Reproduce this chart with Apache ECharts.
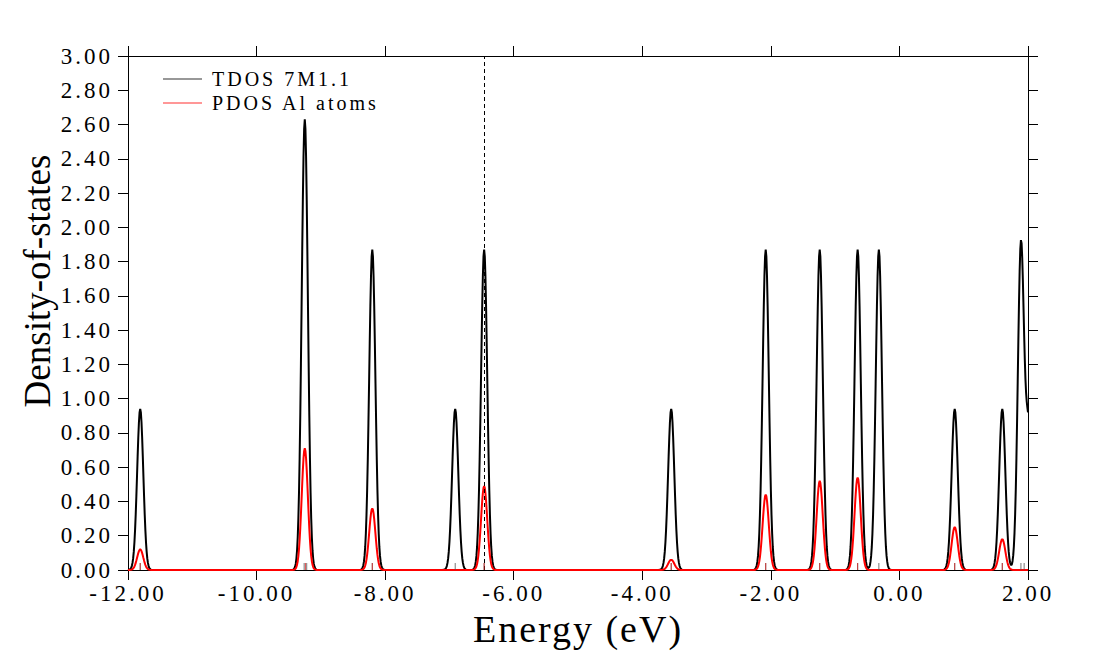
<!DOCTYPE html>
<html>
<head>
<meta charset="utf-8">
<script src="https://cdn.jsdelivr.net/npm/echarts@6/dist/echarts.min.js"></script>
<style>
  html, body { margin: 0; padding: 0; background: #fff; }
  #dos { width: 1103px; height: 663px; }
  /* xmgrace-like wide text */
  #dos svg text[style*="23px"] { letter-spacing: 3px; }
  #dos svg text[style*="20px"] { letter-spacing: 3px; }
  #dos svg text[style*="38px"] { letter-spacing: 2px; }
</style>
</head>
<body>
<div id="dos"></div>
<script>
var myChart = echarts.init(document.getElementById('dos'), null, { renderer: 'svg' });

// energy window (eV) and sampling step of the curves
var xMin = -12, xMax = 2, step = 0.01;

// eigenvalue positions and peak heights
var tdosLevels  = [-11.81, -9.25, -8.20, -6.91, -6.46, -3.55, -2.08, -1.24, -0.65, -0.32, 0.86, 1.60, 1.89, 2.01];
var tdosHeights = [  0.94,  2.63,  1.87,  0.94,  1.87,  0.94,  1.87,  1.87,  1.87,  1.87, 0.94, 0.94, 1.89, 0.80];

var alLevels  = [-11.81, -9.25, -8.20, -6.46, -3.55, -2.08, -1.24, -0.65, 0.86, 1.60];
var alHeights = [  0.12,  0.71,  0.36,  0.49,  0.06,  0.44,  0.52,  0.54, 0.25, 0.18];

// peak profile (fraction of peak height every 0.01 eV from the centre)
var peakShape = [1, 0.979, 0.917, 0.823, 0.707, 0.581, 0.458, 0.345, 0.249, 0.172, 0.114,
                 0.072, 0.044, 0.026, 0.014, 0.008, 0.004, 0.002, 0.001];

// short sticks on the energy axis
var levelSticks = [-11.81, -9.26, -9.22, -8.20, -6.91, -6.46, -3.55, -2.08, -1.24, -0.65, -0.32, 0.86, 1.60, 1.89, 1.94];
var alSticks    = [-11.81, -9.24, -8.20, -6.46, -3.55, -2.08, -1.24, -0.65, 0.86, 1.60];

var xTicks = { min: -12, max: 2, interval: 2 };
var yTicks = { min: 0, max: 3, interval: 0.2 };

var seriesNames = ['TDOS 7M1.1', 'PDOS Al atoms'];
var fermi = -6.46;

var broaden = function (levels, heights) {
    var n = Math.round((xMax - xMin) / step) + 1;
    var y = [];
    for (var i = 0; i < n; i++) y.push(0);
    for (var j = 0; j < levels.length; j++) {
        var c = Math.round((levels[j] - xMin) / step);
        for (var k = -(peakShape.length - 1); k < peakShape.length; k++) {
            var idx = c + k;
            if (idx >= 0 && idx < n) y[idx] += heights[j] * peakShape[Math.abs(k)];
        }
    }
    return y.map(function (v, i) {
        return [+(xMin + i * step).toFixed(2), +v.toFixed(4)];
    });
};

var sticks = function (list) {
    return list.map(function (e) { return [e, 0]; });
};

var font = 'Liberation Serif';

var option = {
    backgroundColor: '#fff',
    animation: false,
    grid: { left: 128, right: 75, top: 56, bottom: 93, outerBoundsMode: 'none' },
    legend: {
        data: [
            { name: seriesNames[0], icon: 'rect', itemStyle: { color: '#333' } },
            { name: seriesNames[1], icon: 'rect', itemStyle: { color: '#ff3030' } }
        ],
        orient: 'vertical',
        left: 158,
        top: 64,
        itemWidth: 39,
        itemHeight: 1,
        itemGap: 4,
        textStyle: { fontFamily: font, fontSize: 20, lineHeight: 20, color: '#000', padding: [0, 0, 0, 5] }
    },
    xAxis: [{
        type: 'value',
        min: xTicks.min, max: xTicks.max, interval: xTicks.interval,
        name: 'Energy (eV)',
        nameLocation: 'middle',
        nameGap: 36,
        nameTextStyle: { fontFamily: font, fontSize: 38, color: '#000' },
        axisLine: { onZero: false, lineStyle: { color: '#000', width: 1 } },
        axisTick: { inside: false, length: 10, lineStyle: { color: '#000' } },
        axisLabel: {
            fontFamily: font, fontSize: 23, color: '#000', margin: 12,
            formatter: function (v) { return v.toFixed(2); }
        },
        splitLine: { show: false }
    }, {
        type: 'value',
        position: 'top',
        min: xTicks.min, max: xTicks.max, interval: xTicks.interval,
        axisLine: { onZero: false, lineStyle: { color: '#000', width: 1 } },
        axisTick: { inside: false, length: 10, lineStyle: { color: '#000' } },
        axisLabel: { show: false },
        splitLine: { show: false }
    }],
    yAxis: [{
        type: 'value',
        min: yTicks.min, max: yTicks.max, interval: yTicks.interval,
        name: 'Density-of-states',
        nameLocation: 'middle',
        nameGap: 72,
        nameTextStyle: { fontFamily: font, fontSize: 37, color: '#000', padding: [0, 0, 0, 64] },
        axisLine: { show: true, onZero: false, lineStyle: { color: '#000', width: 1 } },
        axisTick: { show: true, inside: false, length: 10, lineStyle: { color: '#000' } },
        axisLabel: {
            fontFamily: font, fontSize: 23, color: '#000', margin: 15,
            formatter: function (v) { return v.toFixed(2); }
        },
        splitLine: { show: false }
    }, {
        type: 'value',
        position: 'right',
        min: yTicks.min, max: yTicks.max, interval: yTicks.interval,
        axisLine: { show: true, onZero: false, lineStyle: { color: '#000', width: 1 } },
        axisTick: { show: true, inside: false, length: 10, lineStyle: { color: '#000' } },
        axisLabel: { show: false },
        splitLine: { show: false }
    }],
    series: [{
        name: seriesNames[0],
        type: 'line',
        data: broaden(tdosLevels, tdosHeights),
        showSymbol: false,
        symbol: 'none',
        sampling: 'none',
        color: '#000',
        lineStyle: { color: '#000', width: 2 },
        z: 2,
        markLine: {
            silent: true,
            symbol: 'none',
            label: { show: false },
            lineStyle: { color: '#000', width: 1, type: [4, 3] },
            data: [{ xAxis: fermi }]
        }
    }, {
        name: seriesNames[1],
        type: 'line',
        data: broaden(alLevels, alHeights),
        showSymbol: false,
        symbol: 'none',
        sampling: 'none',
        color: '#ff0000',
        lineStyle: { color: '#ff0000', width: 2 },
        z: 3
    }, {
        name: 'levels',
        type: 'scatter',
        data: sticks(levelSticks),
        symbol: 'rect',
        symbolSize: [1, 7],
        symbolOffset: [0, -3.5],
        itemStyle: { color: '#555' },
        clip: false,
        silent: true,
        z: 4
    }, {
        name: 'Al levels',
        type: 'scatter',
        data: sticks(alSticks),
        symbol: 'rect',
        symbolSize: [1, 7],
        symbolOffset: [0, -3.5],
        itemStyle: { color: '#d82020' },
        clip: false,
        silent: true,
        z: 5
    }]
};

myChart.setOption(option);
</script>
</body>
</html>
